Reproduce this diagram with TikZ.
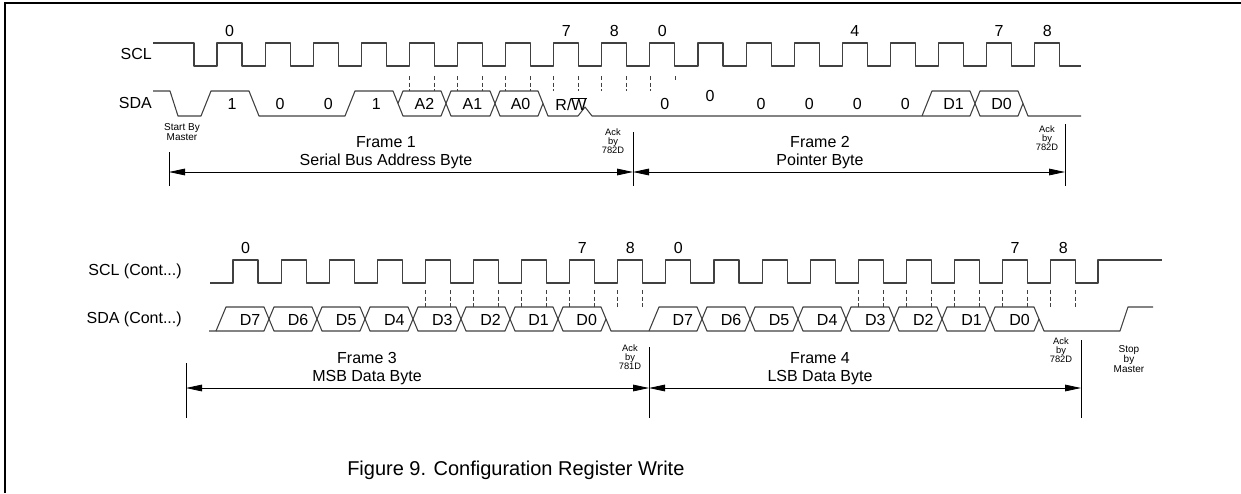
\documentclass[tikz,border=0pt]{standalone}
\usepackage{fontspec}
\setmainfont{Liberation Sans}
\usetikzlibrary{arrows.meta}

\tikzset{
  wave/.style={black!75, line width=0.8pt, line join=round},
  guide/.style={black!75, line width=0.5pt, dash pattern=on 3pt off 2pt},
  bit/.style={font=\fontsize{12}{13.5}\selectfont, inner sep=0pt},
  framelbl/.style={font=\fontsize{12}{13.5}\selectfont, align=center, inner sep=0pt},
  note/.style={font=\fontsize{7}{7}\selectfont, align=center, inner sep=0pt},
  spanarrow/.style={line width=0.6pt, {Triangle[length=12pt,width=5pt]}-{Triangle[length=12pt,width=5pt]}},
  marker/.style={line width=0.6pt}
}

\begin{document}
\begin{tikzpicture}[x=0.75pt,y=-0.75pt]
    \useasboundingbox (0,0) rectangle (1241,493);

    % Page border (top and left)
    \draw[line width=2.2pt] (5,493) -- (5,3) -- (1241,3);

    % ---------- Frames 1 and 2 ----------
    \node[bit, anchor=east] (scl) at (152,54) {SCL};
    \node[bit, anchor=east] (sda) at (152,103) {SDA};

    % SCL clock
    \draw[wave] (153,43) -- (194,43) -- (194,66)
        \foreach \k in {0,...,17} { -- ({217+48.1*\k},66) -- ({217+48.1*\k},43) -- ({242+48.1*\k},43) -- ({242+48.1*\k},66) }
        -- (1081,66);
    \foreach \k/\n in {0/0,7/7,8/8,9/0,13/4,16/7,17/8}
        \node[bit] (clkA\k) at ({229.5+48.1*\k},31) {\n};

    % sampling guides
    \foreach \k in {4,...,8}
        \draw[guide] ({217+48.1*\k},76) -- ({217+48.1*\k},91) ({242+48.1*\k},76) -- ({242+48.1*\k},91);
    \draw[guide] (650,76) -- (650,91) (675,76) -- (675,82);

    % SDA: start, address bits, R/W, pointer byte
    \draw[wave] (153,91) -- (170,91) -- (178,116) -- (201,116) -- (211,91) -- (249,91) -- (259,116) -- (345,116) -- (355,91)
        -- (393,91) -- (403,116) -- (441,116) -- (451,91) -- (490,91) -- (500,116) -- (538,116) -- (543,103.5);
    \draw[wave] (398,103.5) -- (403,91) -- (441,91) -- (451,116) -- (490,116) -- (500,91) -- (538,91) -- (548,116)
        -- (578,116) -- (585,107) -- (592,116) -- (970,116) -- (980,91) -- (1018,91) -- (1028,116) -- (1081,116);
    \draw[wave] (922,116) -- (932,91) -- (970,91) -- (980,116) -- (1018,116) -- (1023,103.5);

    \foreach \k/\b in {0/1,1/0,2/0,3/1,4/A2,5/A1,6/A0,9/0,11/0,12/0,13/0,14/0,15/D1,16/D0}
        \node[bit] (bitA\k) at ({232+48.1*\k},104) {\b};
    \node[bit] (bitA7) at (571,104) {R/$\overline{\mbox{W}}$};
    \node[bit] (bitA10) at (710,96) {0};

    % frame spans
    \coordinate (f1a) at (169,172);
    \coordinate (f1b) at (633,172);
    \coordinate (f2b) at (1065,172);
    \draw[marker] (f1a |- 0,152) -- (f1a |- 0,186);
    \draw[marker] (f1b |- 0,132) -- (f1b |- 0,186);
    \draw[marker] (f2b |- 0,124) -- (f2b |- 0,186);
    \draw[spanarrow] (f1a) -- (f1b);
    \draw[spanarrow] (f1b) -- (f2b);

    \node[framelbl] (fr1) at (386,153) {Frame 1\\Serial Bus Address Byte};
    \node[framelbl] (fr2) at (820,153) {Frame 2\\Pointer Byte};
    \node[note, font=\fontsize{7.5}{7.5}\selectfont] (start) at (182,132) {Start By\\Master};
    \node[note] (ack1) at (613,141) {Ack\\by\\782D};
    \node[note] (ack2) at (1047,138) {Ack\\by\\782D};

    % ---------- Frames 3 and 4 ----------
    \node[bit, anchor=east] (sclc) at (182,271) {SCL (Cont...)};
    \node[bit, anchor=east] (sdac) at (182,319) {SDA (Cont...)};

    % SCL clock
    \draw[wave] (210,283)
        \foreach \k in {0,...,17} { -- ({233+48.1*\k},283) -- ({233+48.1*\k},260) -- ({258+48.1*\k},260) -- ({258+48.1*\k},283) }
        -- (1098,283) -- (1098,260) -- (1162,260);
    \foreach \k/\n in {0/0,7/7,8/8,9/0,16/7,17/8}
        \node[bit] (clkB\k) at ({245.5+48.1*\k},248) {\n};

    % sampling guides
    \foreach \k in {4,...,8,13,14,...,17}
        \draw[guide] ({233+48.1*\k},290) -- ({233+48.1*\k},307) ({258+48.1*\k},290) -- ({258+48.1*\k},307);

    % SDA: MSB byte, ack, LSB byte, stop
    \draw[wave] (209,331) -- (216,331) -- (226,307) -- (264,307) -- (274,331) -- (312,331) -- (322,307) -- (360,307)
        -- (370,331) -- (408,331) -- (418,307) -- (456,307) -- (466,331) -- (505,331) -- (515,307) -- (553,307)
        -- (563,331) -- (601,331) -- (606,319);
    \draw[wave] (216,331) -- (264,331) -- (274,307) -- (312,307) -- (322,331) -- (360,331) -- (370,307) -- (408,307)
        -- (418,331) -- (456,331) -- (466,307) -- (505,307) -- (515,331) -- (553,331) -- (563,307) -- (601,307)
        -- (611,331) -- (697,331) -- (707,307) -- (745,307) -- (755,331) -- (793,331) -- (803,307) -- (841,307)
        -- (851,331) -- (889,331) -- (899,307) -- (937,307) -- (947,331) -- (985,331) -- (995,307) -- (1034,307)
        -- (1044,331) -- (1120,331) -- (1128,307) -- (1153,307);
    \draw[wave] (649,331) -- (659,307) -- (697,307) -- (707,331) -- (745,331) -- (755,307) -- (793,307) -- (803,331)
        -- (841,331) -- (851,307) -- (889,307) -- (899,331) -- (937,331) -- (947,307) -- (985,307) -- (995,331)
        -- (1034,331) -- (1039,319);

    \foreach \k/\b in {0/D7,1/D6,2/D5,3/D4,4/D3,5/D2,6/D1,7/D0,9/D7,10/D6,11/D5,12/D4,13/D3,14/D2,15/D1,16/D0}
        \node[bit] (bitB\k) at ({250+48.1*\k},320) {\b};

    % frame spans
    \coordinate (f3a) at (186,388);
    \coordinate (f3b) at (649,388);
    \coordinate (f4b) at (1081,388);
    \draw[marker] (f3a |- 0,363) -- (f3a |- 0,418);
    \draw[marker] (f3b |- 0,347) -- (f3b |- 0,418);
    \draw[marker] (f4b |- 0,340) -- (f4b |- 0,418);
    \draw[spanarrow] (f3a) -- (f3b);
    \draw[spanarrow] (f3b) -- (f4b);

    \node[framelbl] (fr3) at (367,369) {Frame 3\\MSB Data Byte};
    \node[framelbl] (fr4) at (820,369) {Frame 4\\LSB Data Byte};
    \node[note] (ack3) at (630,357) {Ack\\by\\781D};
    \node[note] (ack4) at (1061,350) {Ack\\by\\782D};
    \node[note, font=\fontsize{7.5}{7.5}\selectfont] (stop) at (1129,359) {Stop\\by\\Master};

    % caption
    \node[anchor=west, inner sep=0pt, font=\fontsize{15}{17}\selectfont] (caption) at (347,470) {Figure 9. Configuration Register Write};
\end{tikzpicture}
\end{document}
